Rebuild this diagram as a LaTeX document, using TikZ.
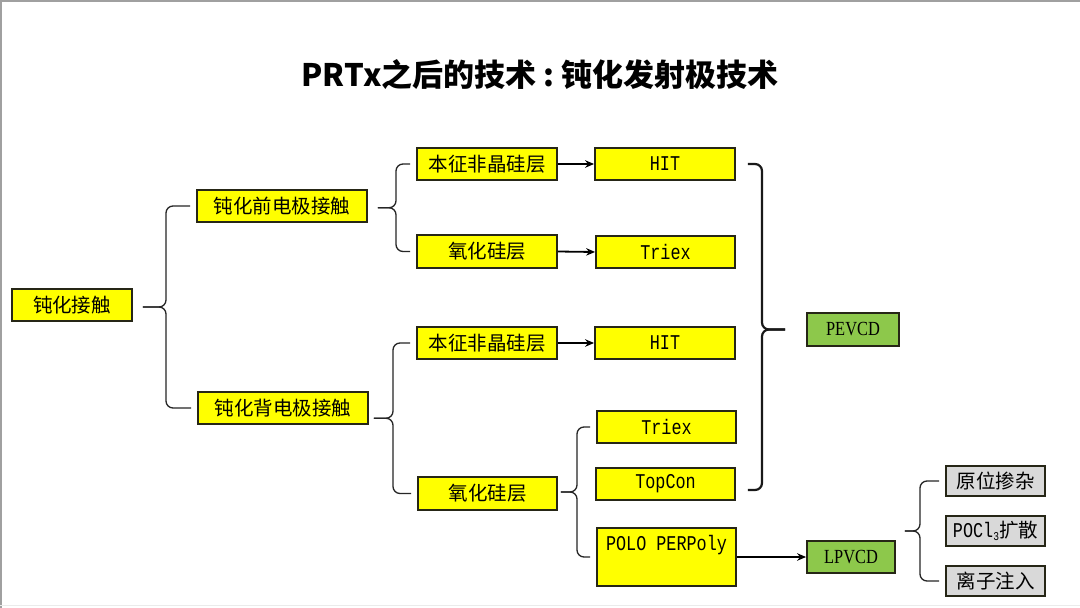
\documentclass[tikz,border=0pt]{standalone}
\usepackage{fontspec}
\setmainfont{Noto Sans CJK SC}
\newfontfamily\cjkfont{Noto Sans CJK SC}
\newfontfamily\titlefont{Noto Sans CJK SC}
\newfontfamily\monofont{Liberation Mono}[FakeStretch=0.8]
\newfontfamily\narrowserif{Liberation Serif}[FakeStretch=0.82]
\usetikzlibrary{arrows.meta,calc}
\definecolor{boxyellow}{HTML}{FFFF00}
\definecolor{boxgreen}{HTML}{8DC84B}
\definecolor{boxgray}{HTML}{D9D9D9}
\definecolor{boxline}{HTML}{262616}
\definecolor{edgegray}{HTML}{A0A0A0}
\tikzset{
  basebox/.style={draw=boxline, line width=1.8pt, inner sep=0pt, rectangle},
  ybox/.style={basebox, fill=boxyellow, minimum width=140pt, minimum height=32pt},
  gbox/.style={basebox, fill=boxgreen},
  greybox/.style={basebox, fill=boxgray, minimum width=99pt, minimum height=30pt},
  cjk/.style={font=\cjkfont\fontsize{19.5}{22}\selectfont},
  mono/.style={font=\monofont\fontsize{21}{24}\selectfont},
  nserif/.style={font=\narrowserif\fontsize{20}{24}\selectfont},
  brc/.style={draw=black!85, line width=1.3pt, rounded corners=7pt},
  bigbrc/.style={draw=black!90, line width=2.2pt, rounded corners=7pt},
  arr/.style={draw=black, line width=1.8pt, -{Stealth[length=9pt,width=7.5pt]}},
}
\newcommand{\LeftBrace}[5]{% parent, top child, bottom child, vertical x, tip gap
  \coordinate (vv) at (#4,0);
  \coordinate (mm) at ($(#2.west)!0.5!(#3.west)$);
  \coordinate (ss) at ([xshift=#5]#1.east);
  \draw[brc] (ss |- mm) -- (vv |- mm) -- (vv |- #2.west) -- ([xshift=-6pt]#2.west);
  \draw[brc] (ss |- mm) -- (vv |- mm) -- (vv |- #3.west) -- ([xshift=-6pt]#3.west);
}
\begin{document}
\begin{tikzpicture}[x=1pt,y=-1pt]
\useasboundingbox (0,0) rectangle (1080,608);
\fill[white] (0,0) rectangle (1080,608);
\draw[edgegray, line width=1.5pt] (0.75,608) -- (0.75,0.75) -- (1080,0.75);
\draw[black!8, line width=1pt] (0,605) -- (1080,605);

% title
\node[font=\titlefont\bfseries\fontsize{31}{36}\selectfont] (title) at (540,75) {PRTx之后的技术\hspace{0.22em}:\hspace{0.22em}钝化发射极技术};

% nodes
\node[ybox, minimum width=120pt, cjk] (root) at (72,305) {钝化接触};
\node[ybox, minimum width=170pt, cjk] (front) at (282,206) {钝化前电极接触};
\node[ybox, minimum width=170pt, cjk] (back) at (283,408) {钝化背电极接触};

\node[ybox, cjk] (a1) at (487,164) {本征非晶硅层};
\node[ybox, minimum height=33pt, cjk] (o1) at (487,251.5) {氧化硅层};
\node[ybox, cjk] (a2) at (487,343) {本征非晶硅层};
\node[ybox, minimum width=139pt, minimum height=33pt, cjk] (o2) at (487.5,493.5) {氧化硅层};

\node[ybox, mono] (hit1) at (665,164) {HIT};
\node[ybox, minimum width=139pt, mono] (tri1) at (665.5,252) {Triex};
\node[ybox, mono] (hit2) at (665,343) {HIT};
\node[ybox, minimum width=139pt, mono] (tri2) at (666.5,427) {Triex};
\node[ybox, minimum width=139pt, mono] (topc) at (665.5,484) {TopCon};
\node[ybox, minimum width=139pt, minimum height=58pt] (polo) at (666.5,557) {};
\node[mono, anchor=center] (polotext) at ([yshift=-18pt]polo.north) {POLO PERPoly};

\node[gbox, minimum width=92pt, minimum height=33pt, nserif] (pe) at (853,329.5) {PEVCD};
\node[gbox, minimum width=88pt, minimum height=32pt, nserif] (lp) at (851,557) {LPVCD};

\node[greybox, cjk] (g1) at (995.5,481) {原位掺杂};
\node[greybox] (g2) at (995.5,531) {\monofont\fontsize{21}{24}\selectfont POCl\raisebox{-0.25ex}{\fontsize{12}{14}\selectfont 3}\cjkfont\fontsize{19.5}{22}\selectfont 扩散};
\node[greybox, cjk] (g3) at (995.5,581) {离子注入};

% braces
\LeftBrace{root}{front}{back}{166}{10pt}
\LeftBrace{front}{a1}{o1}{396}{10pt}
\LeftBrace{back}{a2}{o2}{393}{5pt}
\LeftBrace{o2}{tri2}{polo}{577}{3pt}
\LeftBrace{lp}{g1}{g3}{920}{9pt}

% big right bracket to PEVCD
\coordinate (rv) at (762,0);
\coordinate (rtip) at ([xshift=-21pt]pe.west);
\coordinate (rtop) at ([xshift=12pt]hit1.east);
\coordinate (rbot) at ([xshift=12pt,yshift=-6pt]topc.east);
\draw[bigbrc] (rtop) -- (rv |- rtop) -- (rv |- pe.west) -- (rtip);
\draw[bigbrc] (rbot) -- (rv |- rbot) -- (rv |- pe.west) -- (rtip);

% arrows
\draw[arr] (a1.east) -- (hit1.west);
\draw[arr] (o1.east) -- (tri1.west);
\draw[arr] (a2.east) -- (hit2.west);
\draw[arr] (polo.east |- lp.west) -- (lp.west);
\end{tikzpicture}
\end{document}
